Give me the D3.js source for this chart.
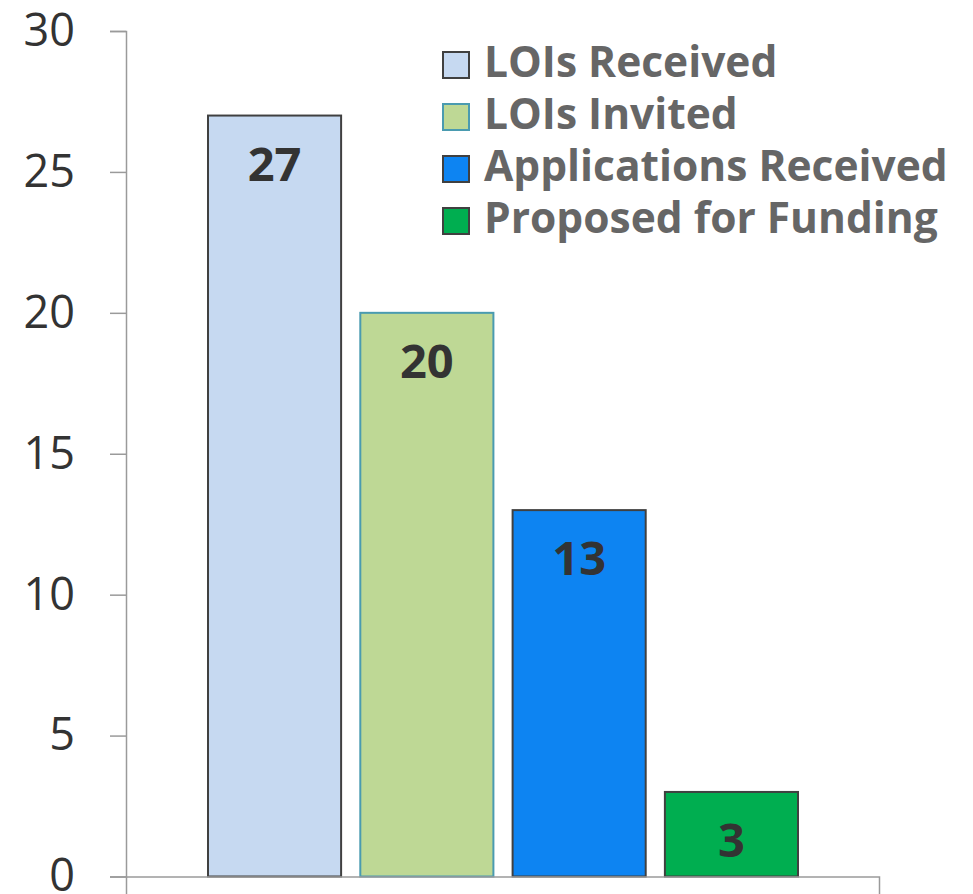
<!DOCTYPE html>
<html>
<head>
<meta charset="utf-8">
<script src="https://cdn.jsdelivr.net/npm/d3@7"></script>
<style>
  html, body { margin: 0; padding: 0; background: #fff; }
  svg { display: block; font-family: "Open Sans", sans-serif; }
</style>
</head>
<body>
<svg id="chart" width="973" height="894"></svg>
<script>
const series = ["LOIs Received", "LOIs Invited", "Applications Received", "Proposed for Funding"];
const values = [27, 20, 13, 3];
const fills = ["#c6d9f1", "#bed895", "#0d84f2", "#00ae50"];
const strokes = ["#404040", "#4a9bb0", "#404040", "#404040"];
const yTicks = [0, 5, 10, 15, 20, 25, 30];

const svg = d3.select("#chart");
const plotLeft = 126, plotRight = 879, plotTop = 31, plotBottom = 876.5;

const y = d3.scaleLinear().domain([0, 30]).range([plotBottom, plotTop]);
const x = d3.scaleBand().domain(series).range([208, 798]).paddingInner(0.126).paddingOuter(0);

// Bars
svg.append("g").selectAll("rect").data(series).join("rect")
  .attr("x", d => x(d))
  .attr("y", (d, i) => y(values[i]))
  .attr("width", x.bandwidth())
  .attr("height", (d, i) => y(0) - y(values[i]))
  .attr("fill", (d, i) => fills[i])
  .attr("stroke", (d, i) => strokes[i])
  .attr("stroke-width", 2);

// Bar labels
svg.append("g").selectAll("text").data(series).join("text")
  .attr("x", d => x(d) + x.bandwidth() / 2)
  .attr("y", (d, i) => y(values[i]) + 65)
  .attr("text-anchor", "middle")
  .attr("font-size", 47)
  .attr("font-weight", 700)
  .attr("fill", "#333333")
  .text((d, i) => values[i]);

// Y axis
const yAxis = svg.append("g")
  .attr("transform", `translate(${plotLeft},0)`)
  .call(d3.axisLeft(y).tickValues(yTicks).tickSize(16).tickSizeOuter(16).tickPadding(35));
yAxis.selectAll("path, line").attr("stroke", "#9a9a9a").attr("stroke-width", 1.5);
yAxis.selectAll("text").attr("font-size", 45).attr("fill", "#333333")
  .attr("font-family", "'Open Sans', sans-serif");

// X axis (single category, outer ticks only)
const xCat = d3.scaleBand().domain(["all"]).range([plotLeft, plotRight]);
const xAxis = svg.append("g")
  .attr("transform", `translate(0,${plotBottom})`)
  .call(d3.axisBottom(xCat).tickValues([]).tickSizeOuter(18));
xAxis.selectAll("path, line").attr("stroke", "#9a9a9a").attr("stroke-width", 1.5);

// Legend
const legend = svg.append("g");
const rowH = 52, legX = 443, legY0 = 52;
const rows = legend.selectAll("g").data(series).join("g")
  .attr("transform", (d, i) => `translate(${legX},${legY0 + i * rowH})`);
rows.append("rect")
  .attr("width", 26).attr("height", 26)
  .attr("fill", (d, i) => fills[i])
  .attr("stroke", (d, i) => strokes[i])
  .attr("stroke-width", 2);
rows.append("text")
  .attr("x", 41)
  .attr("y", 25)
  .attr("font-size", 42.5)
  .attr("font-weight", 700)
  .attr("fill", "#666666")
  .text(d => d);
</script>
</body>
</html>
